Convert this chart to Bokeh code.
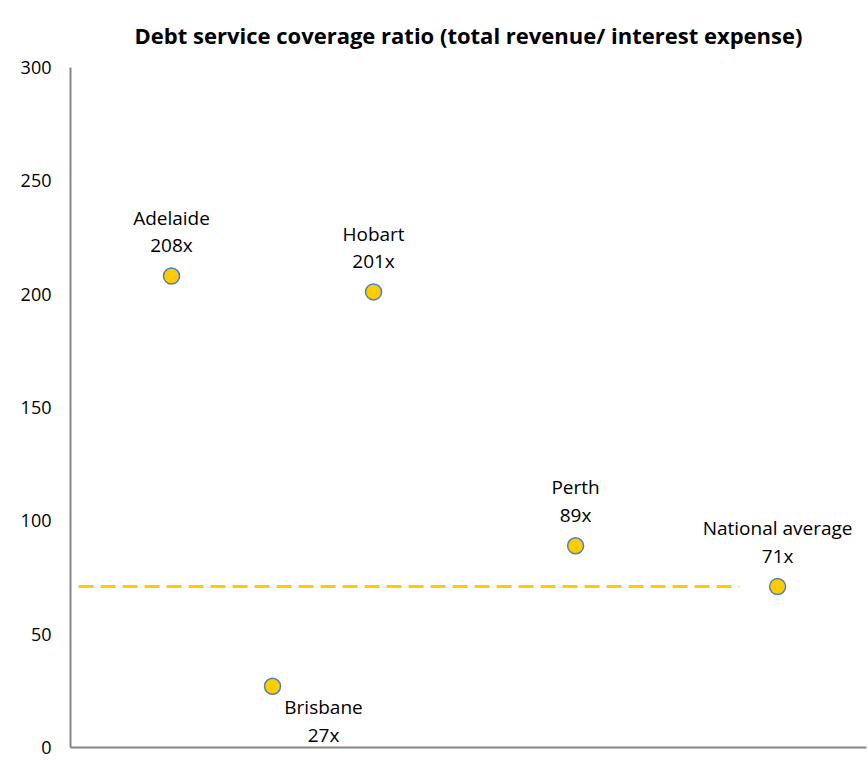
from bokeh.plotting import figure
from bokeh.models import ColumnDataSource, Range1d, FixedTicker
from bokeh.core.properties import value
from bokeh.embed import file_html
from bokeh.resources import INLINE

# Data
cities = ["Adelaide", "Brisbane", "Hobart", "Perth", "National average"]
x_pos = [1, 2, 3, 5, 7]
ratios = [208, 27, 201, 89, 71]
national_average = 71
y_ticks = [0, 50, 100, 150, 200, 250, 300]

FONT = "Open Sans"
GOLD = "#FFCC00"

labels = [f"{c}\n{r}x" for c, r in zip(cities, ratios)]

p = figure(width=867, height=760, output_backend="svg", toolbar_location=None,
           x_range=Range1d(0, 7.88), y_range=Range1d(0, 300),
           min_border_left=70, min_border_right=1, min_border_top=0, min_border_bottom=13)

p.title.text = "Debt service coverage ratio (total revenue/ interest expense)"
p.title.align = "center"
p.title.text_font = FONT
p.title.text_font_size = "22px"
p.title.text_font_style = "bold"
p.title.text_color = "#000000"
p.title.standoff = 35
p.title.offset = 4

p.grid.visible = False
p.outline_line_color = None

p.xaxis.ticker = FixedTicker(ticks=[])
p.xaxis.major_tick_line_color = None
p.xaxis.minor_tick_line_color = None
p.xaxis.axis_line_color = "#868686"
p.xaxis.axis_line_width = 2

p.yaxis.ticker = FixedTicker(ticks=y_ticks)
p.yaxis.major_tick_line_color = None
p.yaxis.minor_tick_line_color = None
p.yaxis.axis_line_color = "#868686"
p.yaxis.axis_line_width = 2
p.yaxis.major_label_text_font = FONT
p.yaxis.major_label_text_font_size = "18px"
p.yaxis.major_label_text_color = "#000000"
p.yaxis.major_label_standoff = 13

# national average dashed line (spans most of width)
xr0, xr1 = 0.08, 6.62
p.line([xr0, xr1], [national_average, national_average], line_color=GOLD,
       line_width=3, line_dash="15 7")

src = ColumnDataSource(dict(x=x_pos, y=ratios, label=labels))
p.scatter("x", "y", source=src, size=16, fill_color=GOLD, line_color="#4F81BD", line_width=1.5)

above = [i for i in range(len(cities)) if cities[i] != "Brisbane"]
below = [i for i in range(len(cities)) if cities[i] == "Brisbane"]

src_above = ColumnDataSource(dict(x=[x_pos[i] for i in above], y=[ratios[i] for i in above],
                                  label=[labels[i] for i in above]))
src_below = ColumnDataSource(dict(x=[x_pos[i] for i in below], y=[ratios[i] for i in below],
                                  label=[labels[i] for i in below]))

p.text("x", "y", text="label", source=src_above, text_font=value(FONT), text_font_size="19px",
       text_align="center", text_baseline="bottom", y_offset=-18, text_line_height=1.05,
       text_color="#000000")
p.text("x", "y", text="label", source=src_below, text_font=value(FONT), text_font_size="19px",
       text_align="center", text_baseline="top", x_offset=51, y_offset=8, text_line_height=1.05,
       text_color="#000000")

open("out.html", "w").write(file_html(p, INLINE))
